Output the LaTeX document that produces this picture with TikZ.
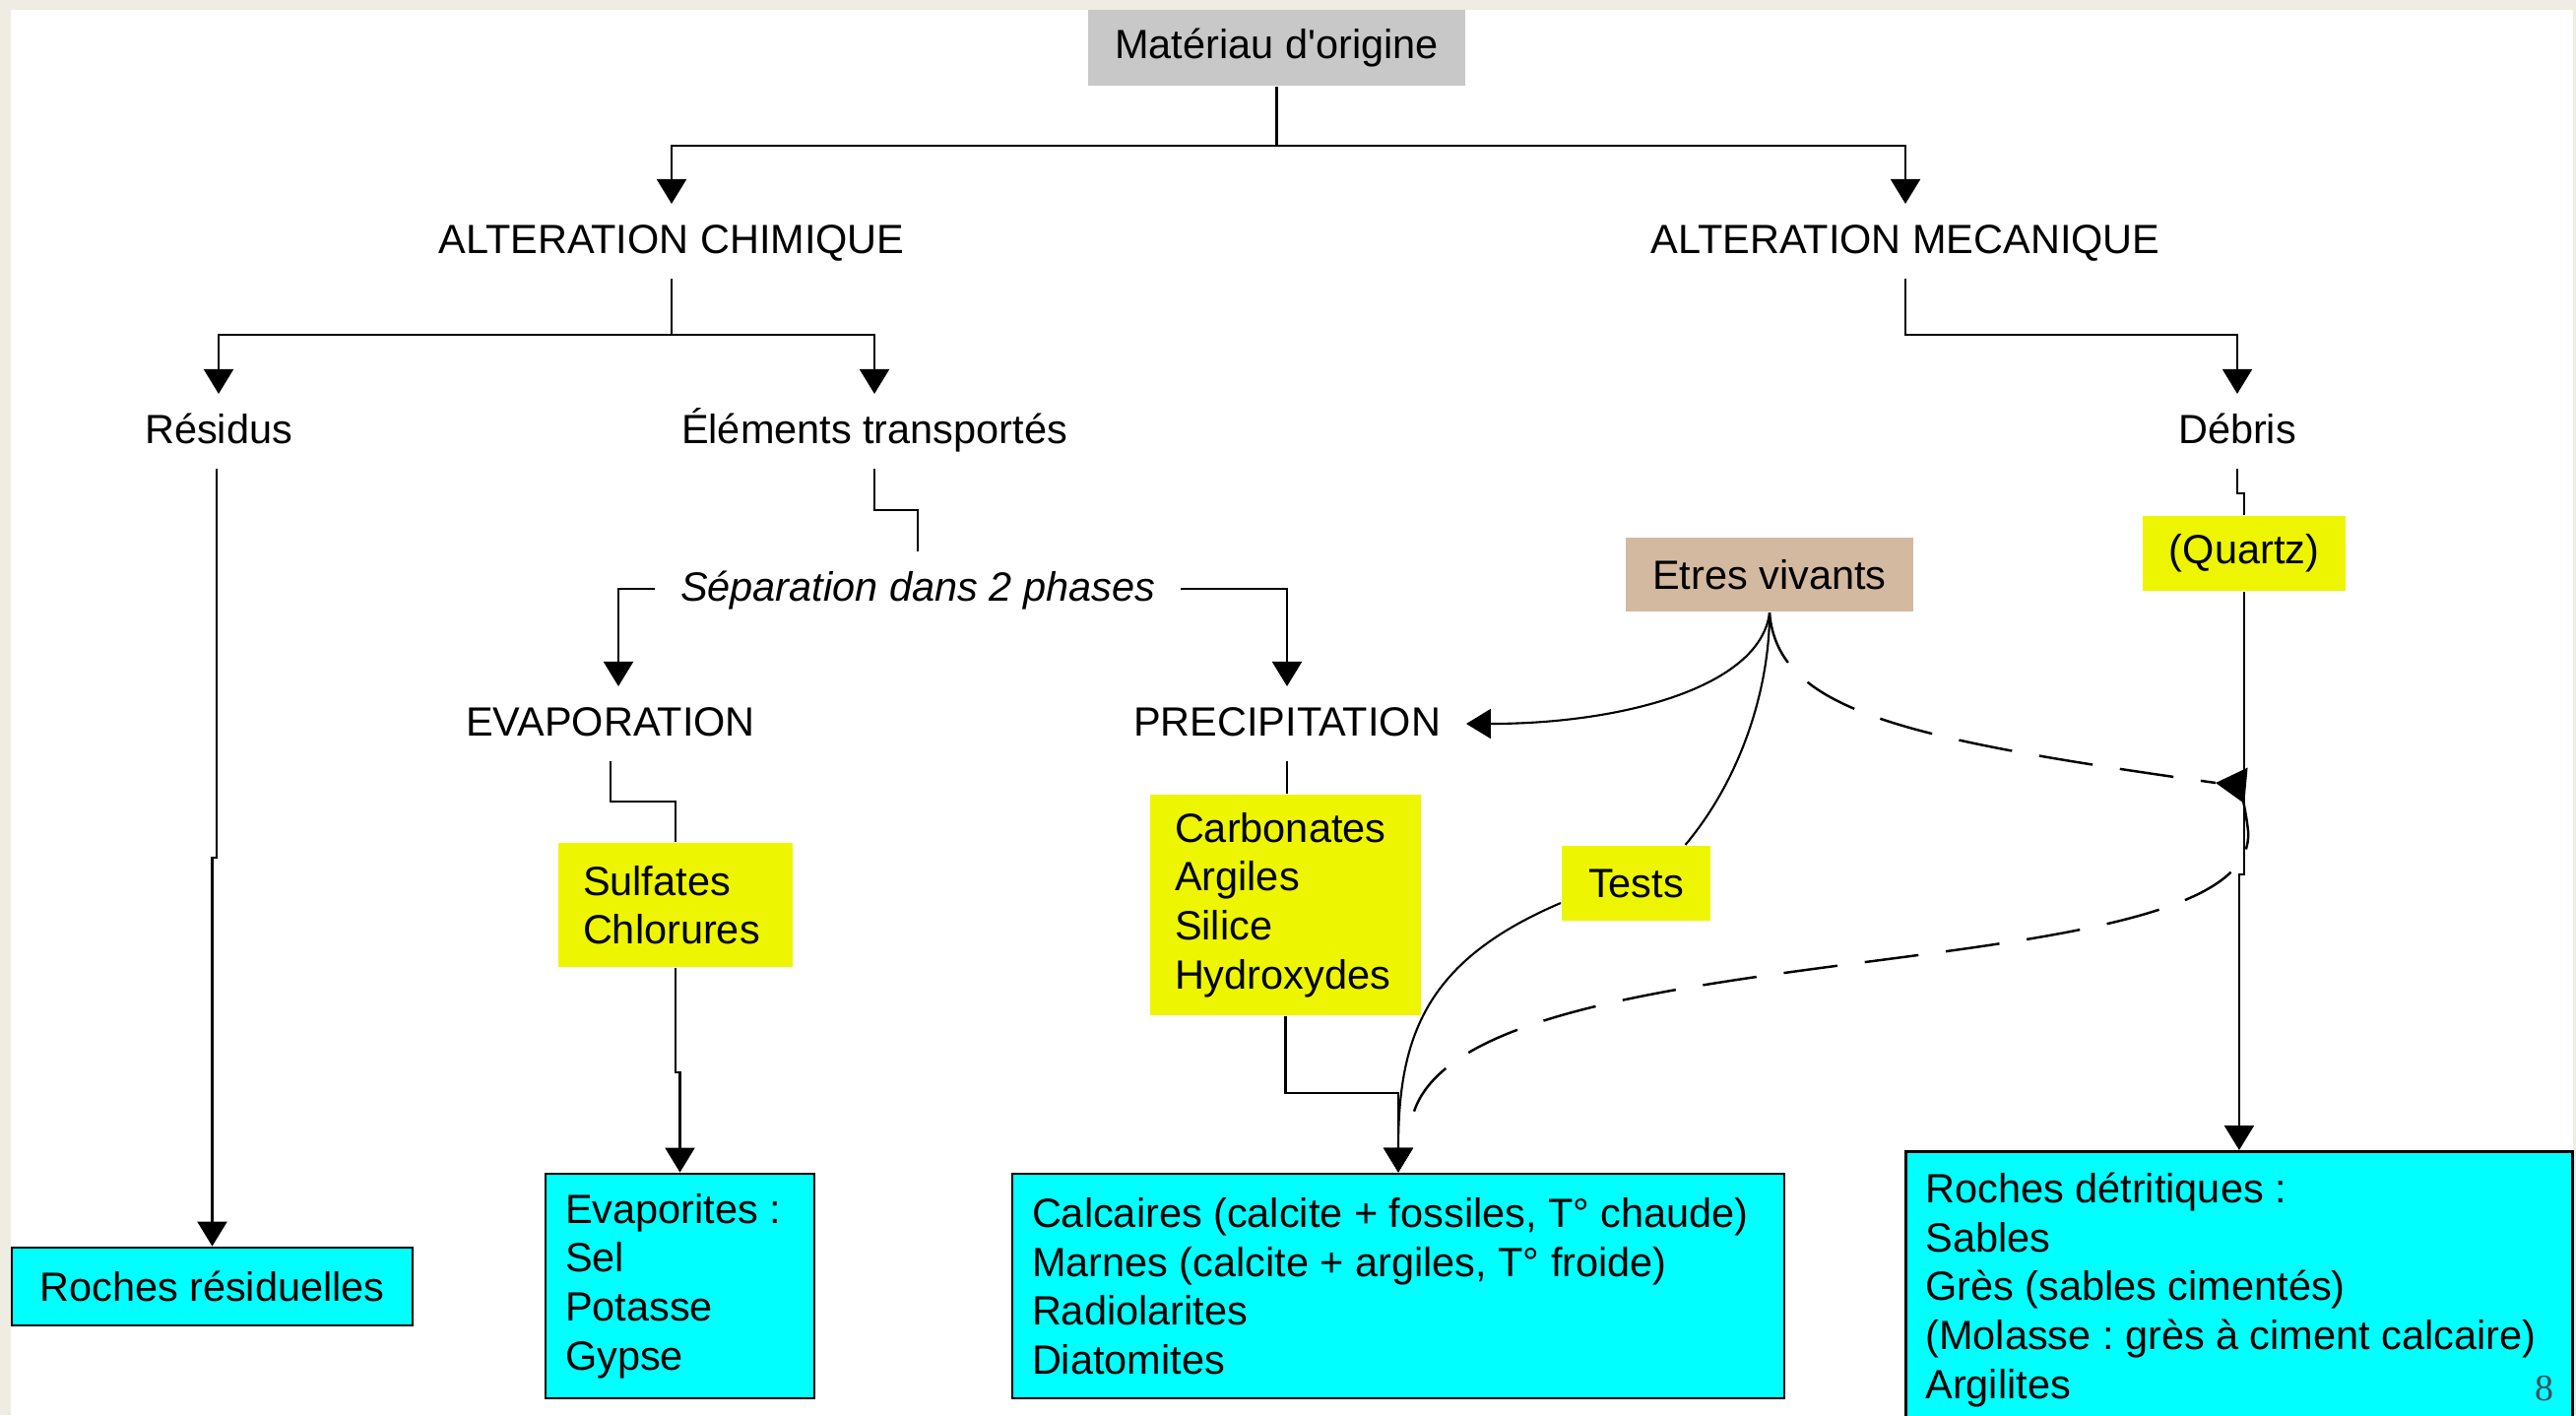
\documentclass[tikz,border=0pt]{standalone}
\usepackage{fontspec}
\setmainfont{Liberation Sans}[Ligatures=TeXOff]
\newfontfamily\pagenumfont{Liberation Serif}
\usepackage{tikz}
\usetikzlibrary{arrows.meta,positioning,calc}
\definecolor{slidebeige}{HTML}{EFECE4}
\definecolor{origgray}{HTML}{C8C8C8}
\definecolor{livingtan}{HTML}{D3B9A0}
\definecolor{markyellow}{HTML}{EDF600}
\definecolor{rockcyan}{HTML}{00FFFF}
\definecolor{pagenum}{HTML}{3F4E5E}
\frenchspacing
\newcommand{\diagfont}{\fontsize{11.8}{14.1}\selectfont}
\tikzset{
  stage/.style={font=\diagfont, inner xsep=0.25cm, inner ysep=0.2cm, text height=0.29cm, text depth=0.05cm},
  chip/.style={font=\diagfont, inner sep=0pt},
  chiplist/.style={chip, align=flush left, inner xsep=0.25cm},
  rock/.style={draw, line width=0.8pt, fill=rockcyan, font=\diagfont, align=flush left, inner xsep=0.2cm, inner ysep=0pt},
  flow/.style={-{Triangle[length=0.25cm,width=0.3cm]}},
  recycle/.style={line width=0.7pt, dash pattern=on 0.55cm off 0.28cm}
}

\begin{document}
\begin{tikzpicture}[line width=0.6pt]
\useasboundingbox (0,0) rectangle (26.16,-14.37);
\fill[slidebeige] (0,0) rectangle (26.16,-14.37);
\fill[white] (0.11,-0.10) rectangle (26.13,-14.37);

\node[chip, fill=origgray, minimum width=3.83cm, minimum height=0.77cm] (orig) at (12.965,-0.485) {Matériau d'origine};
\node[stage] (chim) at (6.82,-2.45) {ALTERATION CHIMIQUE};
\node[stage] (meca) at (19.35,-2.45) {ALTERATION MECANIQUE};
\node[stage] (resid) at (2.22,-4.38) {Résidus};
\node[stage] (elem) at (8.88,-4.38) {Éléments transportés};
\node[stage] (debris) at (22.72,-4.38) {Débris};
\node[stage, font=\diagfont\itshape] (sep) at (9.32,-5.98) {Séparation dans 2 phases};
\node[stage] (evap) at (6.20,-7.35) {EVAPORATION};
\node[stage] (precip) at (13.07,-7.35) {PRECIPITATION};
\node[chip, fill=livingtan, minimum width=2.92cm, minimum height=0.75cm] (etres) at (17.97,-5.835) {Etres vivants};
\node[chip, fill=markyellow, minimum width=2.06cm, minimum height=0.76cm] (quartz) at (22.79,-5.62) {(Quartz)};
\node[chiplist, fill=markyellow, text width=1.88cm, minimum height=1.26cm] (sulf) at (6.86,-9.19) {Sulfates\\Chlorures};
\node[chiplist, fill=markyellow, text width=2.25cm, minimum height=2.24cm] (carb) at (13.055,-9.19) {Carbonates\\Argiles\\Silice\\Hydroxydes};
\node[chip, fill=markyellow, minimum width=1.51cm, minimum height=0.76cm] (tests) at (16.615,-8.97) {Tests};
\node[rock, align=center, minimum width=4.07cm, minimum height=0.79cm] (rres) at (2.155,-13.065) {Roches résiduelles};
\node[rock, text width=2.33cm, minimum height=2.28cm] (evapr) at (6.905,-13.06) {Evaporites :\\Sel\\Potasse\\Gypse};
\node[rock, text width=7.44cm, minimum height=2.28cm] (calc) at (14.20,-13.06) {Calcaires (calcite + fossiles, T° chaude)\\Marnes (calcite + argiles, T° froide)\\Radiolarites\\Diatomites};
\node[rock, anchor=north west, text width=6.37cm, minimum height=2.81cm] (detr) at (19.34,-11.68) {Roches détritiques :\\Sables\\Grès (sables cimentés)\\(Molasse : grès à ciment calcaire)\\Argilites};
\node[font=\pagenumfont\fontsize{10.8}{13}\selectfont, text=pagenum] (pnum) at (25.84,-14.10) {8};
\coordinate (hit) at (22.50,-7.95);

\draw[flow] (orig.south) -- ++(0,-0.6) -| (chim);
\draw[flow] (orig.south) -- ++(0,-0.6) -| (meca);
\draw[flow] (chim.south) -- ++(0,-0.57) -| (resid);
\draw[flow] (chim.south) -- ++(0,-0.57) -| (elem);
\draw[flow] (meca.south) -- ++(0,-0.57) -| (debris);
\draw (elem.south) -- ++(0,-0.42) -| (sep);
\draw[flow] (sep.west) -| ([xshift=0.08cm]evap.north);
\draw[flow] (sep.east) -| (precip);
\draw[flow] ([xshift=-0.02cm]resid.south) -- ++(0,-3.95) -| (rres);
\draw (debris.south) -- ++(0,-0.25) -| (quartz);
\draw[flow] (quartz.south) -- ++(0,-2.87) -| (detr);
\draw (evap.south) -- ++(0,-0.41) -| (sulf);
\draw[flow] (sulf.south) -- ++(0,-1.06) -| (evapr);
\draw (precip.south) -- (precip.south |- carb.north);
\draw[flow] (carb.south) -- ++(0,-0.78) -| (calc);

\draw[flow] (etres.south) .. controls +(-0.09,-0.75) and +(1.6,0) .. (precip.east);
\draw ([xshift=0.5cm]tests.north) .. controls +(0.58,0.69) and +(0,-0.75) .. (etres.south);
\draw[flow] ([yshift=-0.2cm]tests.west) .. controls +(-1.36,-0.58) and +(0,1.4) .. (calc.north);
\draw[recycle] (etres.south) .. controls +(0.08,-0.99) and +(-3.2,0.45) .. (hit);
\draw[recycle, -{Triangle[length=0.31cm,width=0.36cm]}] ([xshift=0.16cm,yshift=0.62cm]calc.north) .. controls (15.0,-9.4) and (22.95,-10.1) .. (22.83,-8.44) .. controls (22.80,-8.15) and (22.72,-7.97) .. (hit);
\end{tikzpicture}
\end{document}
